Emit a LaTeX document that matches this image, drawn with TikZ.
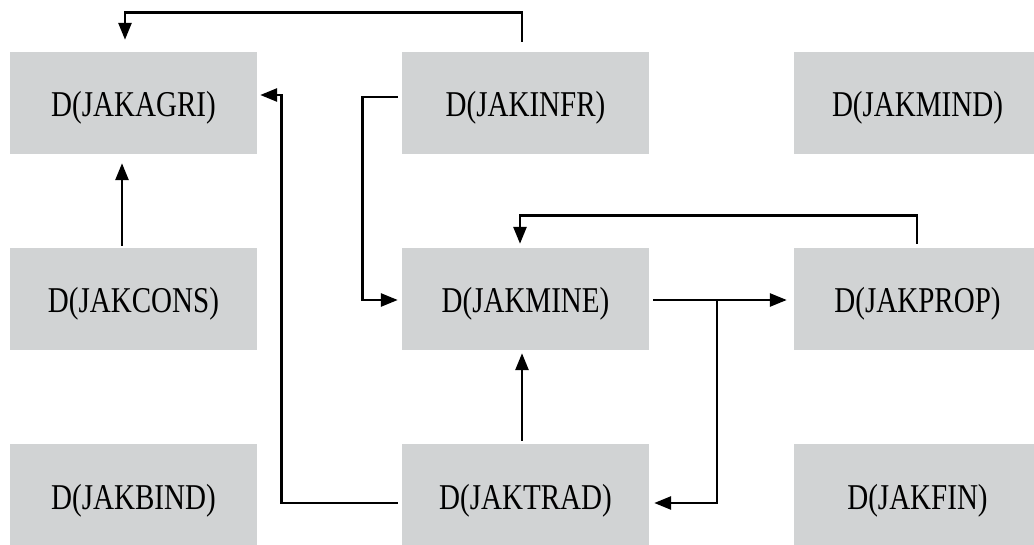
\documentclass[tikz,border=0pt]{standalone}
\usepackage{fontspec}
\newfontfamily\boxfont[FakeStretch=0.8]{Liberation Serif}
\usetikzlibrary{arrows.meta}
\definecolor{boxgray}{RGB}{209,211,212}
\tikzset{
  box/.style={fill=boxgray, draw=none, minimum width=247pt, minimum height=102pt,
    inner sep=0pt, text height=28pt, text depth=0pt,
    font=\boxfont\fontsize{36.3}{40}\selectfont, text=black},
  arr/.style={line width=2.7pt, -{Triangle[length=17pt,width=13pt]}},
  ln/.style={line width=2.7pt}
}
\begin{document}
\begin{tikzpicture}[x=1pt,y=-1pt]
\useasboundingbox (0,0) rectangle (1034,545);
\node[box] (AGRI) at (133.5,103) {D(JAKAGRI)};
\node[box] (INFR) at (525.5,103) {D(JAKINFR)};
\node[box] (MIND) at (917.5,103) {D(JAKMIND)};
\node[box] (CONS) at (133.5,299) {D(JAKCONS)};
\node[box] (MINE) at (525.5,299) {D(JAKMINE)};
\node[box] (PROP) at (917.5,299) {D(JAKPROP)};
\node[box] (BIND) at (133.5,495) {D(JAKBIND)};
\node[box] (TRAD) at (525.5,495) {D(JAKTRAD)};
\node[box] (FIN)  at (917.5,495) {D(JAKFIN)};

% INFR -> AGRI (over the top)
\draw[arr] ([xshift=-3.5pt,yshift=10pt]INFR.north) -- ++(0,-29)
  -| ([xshift=-8.5pt,yshift=12pt]AGRI.north);
% TRAD -> AGRI
\draw[arr] ([xshift=-4pt,yshift=-8pt]TRAD.west)
  -| ([xshift=24pt,yshift=8pt]AGRI.east) -- ([xshift=3pt,yshift=8pt]AGRI.east);
% INFR -> MINE
\draw[arr] ([xshift=-4pt,yshift=6pt]INFR.west) -- ++(-35,0)
  |- ([xshift=-4pt,yshift=-1pt]MINE.west);
% CONS -> AGRI
\draw[arr] ([xshift=-11.5pt,yshift=2pt]CONS.north) -- ([xshift=-11.5pt,yshift=-9pt]AGRI.south);
% PROP -> MINE
\draw[arr] ([xshift=-0.5pt,yshift=4pt]PROP.north) -- ++(0,-28)
  -| ([xshift=-5.5pt,yshift=4pt]MINE.north);
% MINE -> PROP
\draw[arr] ([xshift=4pt,yshift=-1pt]MINE.east) -- ([xshift=-7pt,yshift=-1pt]PROP.west);
% branch -> TRAD
\coordinate (br) at (717,300);
\draw[arr] (br) |- ([xshift=5pt,yshift=-8pt]TRAD.east);
% TRAD -> MINE
\draw[arr] ([xshift=-3.5pt,yshift=3pt]TRAD.north) -- ([xshift=-3.5pt,yshift=-3pt]MINE.south);
\end{tikzpicture}
\end{document}
